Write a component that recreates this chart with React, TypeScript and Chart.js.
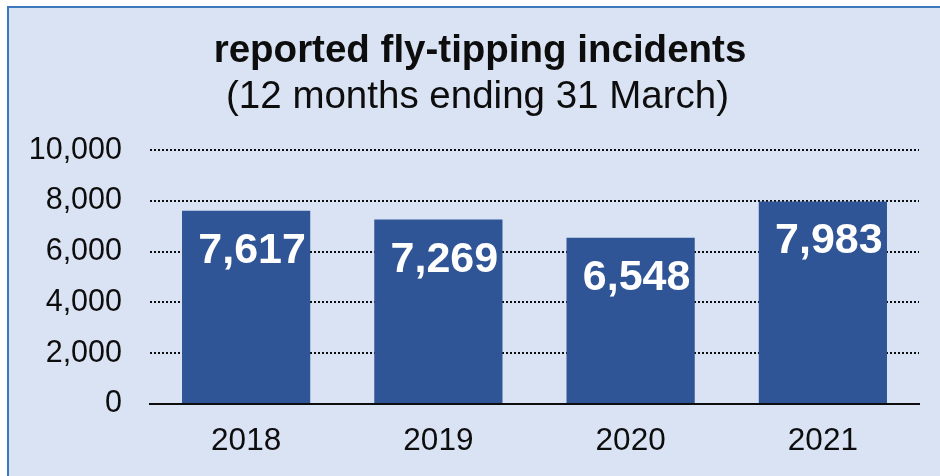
import React, { useEffect, useRef } from "react";
import { Chart, registerables } from "chart.js";

Chart.register(...registerables);

const categories = ["2018", "2019", "2020", "2021"];
const incidents = [7617, 7269, 6548, 7983];
const yTicks = [0, 2000, 4000, 6000, 8000, 10000];
const titleText = "reported fly-tipping incidents";
const subtitleText = "(12 months ending 31 March)";

const FONT = "'Liberation Sans', Arial, sans-serif";
const TEXT = "#0d0d0d";
const fmt = (v: number) => v.toLocaleString("en-US");

const barLabels = {
  id: "barLabels",
  afterDatasetsDraw(chart: any) {
    const ctx = chart.ctx;
    const meta = chart.getDatasetMeta(0);
    ctx.save();
    ctx.fillStyle = "#ffffff";
    ctx.font = `bold 43px ${FONT}`;
    ctx.textAlign = "center";
    ctx.textBaseline = "alphabetic";
    meta.data.forEach((bar: any, i: number) => {
      const v = chart.data.datasets[0].data[i] as number;
      ctx.fillText(fmt(v), bar.x + 6, bar.y + 52);
    });
    ctx.restore();
  },
};

const headings = {
  id: "headings",
  afterDraw(chart: any) {
    const ctx = chart.ctx;
    ctx.save();
    ctx.fillStyle = TEXT;
    ctx.textAlign = "center";
    ctx.textBaseline = "alphabetic";
    ctx.font = `bold 38.5px ${FONT}`;
    ctx.fillText(titleText, 480, 62);
    ctx.font = `38.5px ${FONT}`;
    ctx.fillText(subtitleText, 477.5, 108);
    ctx.restore();
  },
};

export default function App() {
  const ref = useRef<HTMLCanvasElement>(null);
  useEffect(() => {
    if (!ref.current) return;
    const chart = new Chart(ref.current, {
      type: "bar",
      data: {
        labels: categories,
        datasets: [
          {
            data: incidents,
            backgroundColor: "#2f5597",
            borderWidth: 0,
            barPercentage: 0.667,
            categoryPercentage: 1,
          },
        ],
      },
      options: {
        responsive: false,
        animation: false,
        devicePixelRatio: 1,
        layout: { padding: { left: 0, right: 21, top: 150.2, bottom: 12 } },
        plugins: {
          legend: { display: false },
          tooltip: { enabled: false },
          title: { display: false },
          subtitle: { display: false },
        },
        scales: {
          x: {
            grid: { display: false, drawTicks: false },
            border: { display: true, color: TEXT, width: 2 },
            ticks: {
              color: TEXT,
              padding: 18,
              font: { family: FONT, size: 31.5 },
            },
            afterFit: (scale: any) => {
              scale.height = 60;
            },
          },
          y: {
            min: 0,
            max: 10000,
            afterBuildTicks: (scale: any) => {
              scale.ticks = yTicks.map((v) => ({ value: v }));
            },
            grid: { color: TEXT, lineWidth: 2, drawTicks: false },
            border: { display: false, dash: [2, 2] },
            ticks: {
              color: TEXT,
              padding: 28,
              font: { family: FONT, size: 30.5 },
              callback: (v: any) => fmt(Number(v)),
            },
            afterFit: (scale: any) => {
              scale.width = 150;
            },
          },
        },
      },
      plugins: [barLabels, headings],
    });
    return () => chart.destroy();
  }, []);

  return (
    <div style={{ position: "fixed", left: 0, top: 0, width: 940, height: 476, overflow: "hidden", background: "#ffffff" }}>
      <div
        style={{
          position: "absolute",
          left: 7,
          top: 6,
          width: 980,
          height: 520,
          border: "2px solid #3b78bd",
          background: "#dae3f3",
        }}
      />
      <canvas
        ref={ref}
        width={940}
        height={476}
        style={{ position: "absolute", left: 0, top: 0, width: 940, height: 476 }}
      />
    </div>
  );
}
